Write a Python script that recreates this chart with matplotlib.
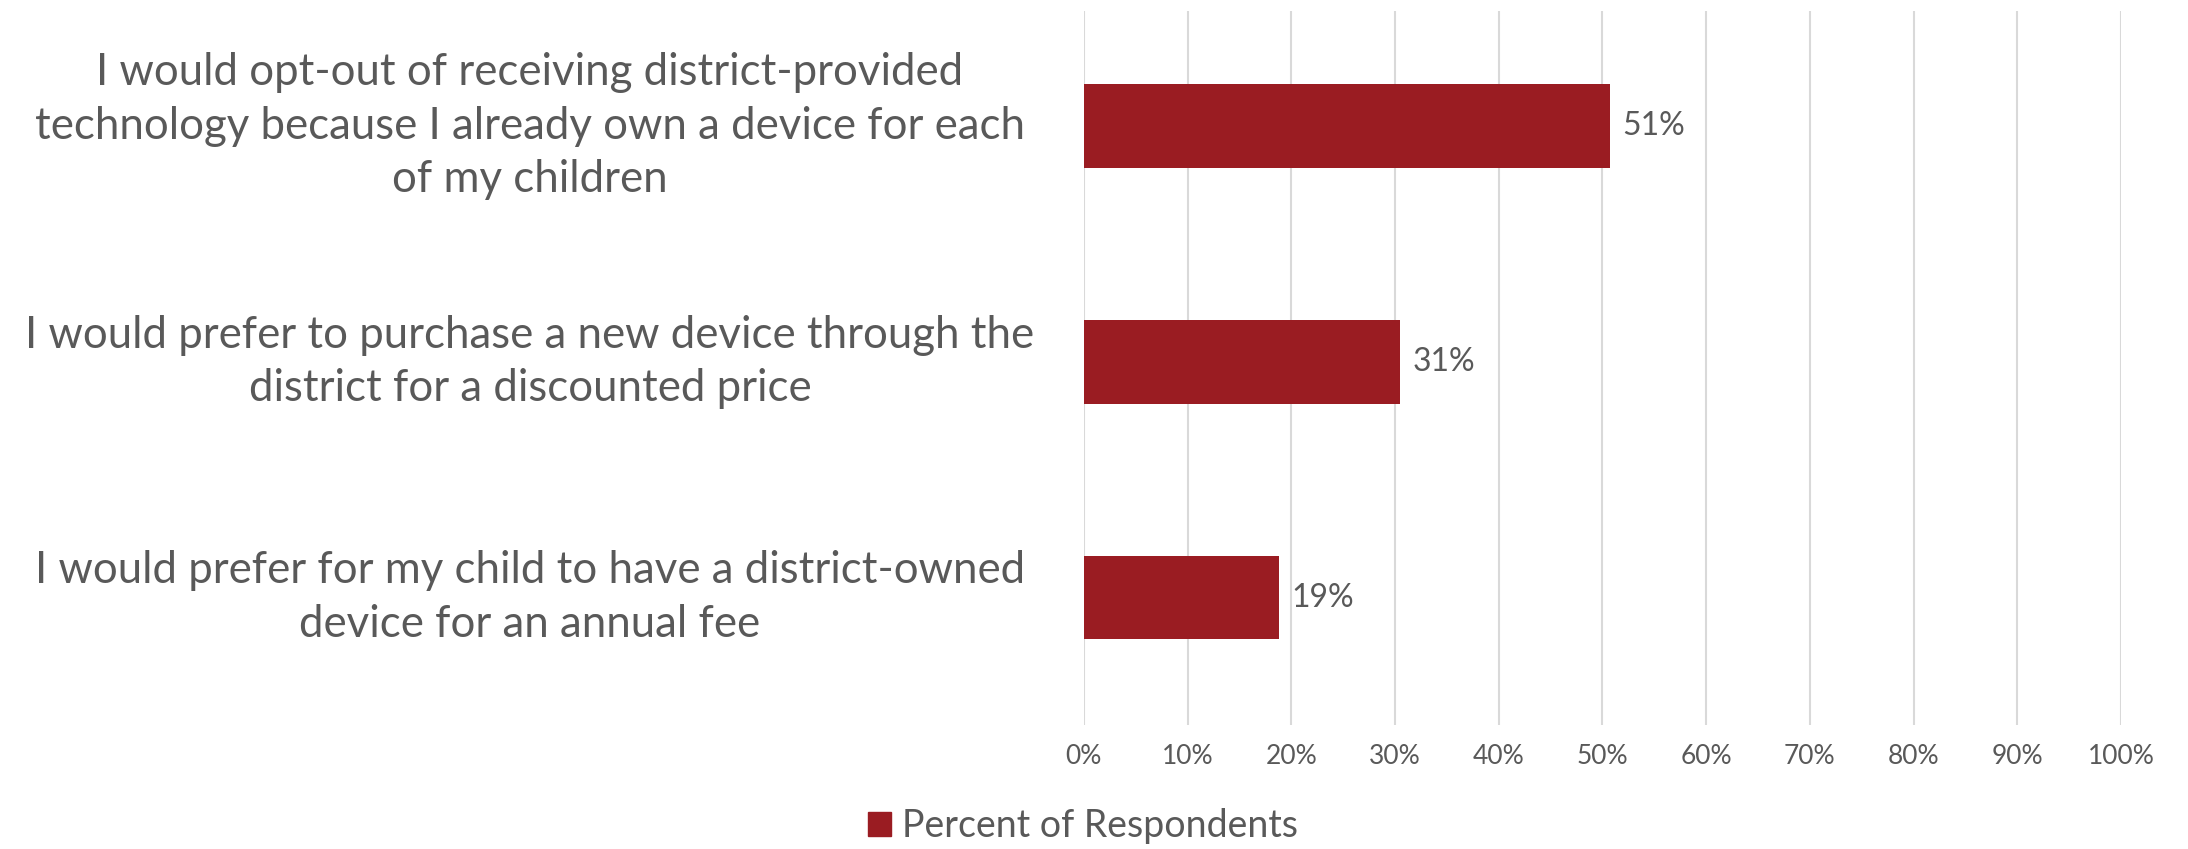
import matplotlib
matplotlib.use('Agg')
import matplotlib.pyplot as plt
import matplotlib.patches as mpatches
import matplotlib.transforms as mtransforms
from matplotlib.ticker import FuncFormatter

plt.rcParams['font.family'] = ['Lato', 'DejaVu Sans']

categories = [
    "I would opt-out of receiving district-provided\ntechnology because I already own a device for each\nof my children",
    "I would prefer to purchase a new device through the\ndistrict for a discounted price",
    "I would prefer for my child to have a district-owned\ndevice for an annual fee",
]
values = [0.507, 0.305, 0.188]
value_labels = ["51%", "31%", "19%"]
series_name = "Percent of Respondents"

BAR = '#9A1C22'
TXT = '#595959'
GRID = '#D9D9D9'

fig = plt.figure(figsize=(21.88, 8.49), dpi=100)
ax = fig.add_axes([0.4954, 0.146, 0.474, 0.841])

y = list(range(len(categories)))
ax.barh(y, values, height=0.355, color=BAR, zorder=3)
ax.set_ylim(len(categories) - 0.459, -0.488)
ax.set_xlim(0, 1.0)
ax.set_xticks([i / 10 for i in range(11)])
ax.xaxis.set_major_formatter(FuncFormatter(lambda v, _: f"{v*100:.0f}%"))
ax.tick_params(axis='x', length=0, pad=14, labelsize=19, labelcolor=TXT)
ax.set_yticks([])
ax.grid(axis='x', color=GRID, linewidth=1.5, zorder=0)
for s in ax.spines.values():
    s.set_visible(False)

# data labels
for yi, v, lab in zip(y, values, value_labels):
    ax.text(v + 0.012, yi, lab, va='center', ha='left', fontsize=23, color=TXT)

# category labels, centered in the left margin
trans = mtransforms.blended_transform_factory(fig.transFigure, ax.transData)
for yi, cat in zip(y, categories):
    ax.text(0.2422, yi, cat, transform=trans, ha='center', va='center',
            multialignment='center', fontsize=31.5, color=TXT, linespacing=1.38)

handle = mpatches.Patch(color=BAR, label=series_name)
fig.legend(handles=[handle], loc='center', bbox_to_anchor=(0.495, 0.027),
           frameon=False, fontsize=27, labelcolor=TXT, handlelength=0.6,
           handleheight=0.6, handletextpad=0.3)

fig.savefig("out.png", dpi=100)
